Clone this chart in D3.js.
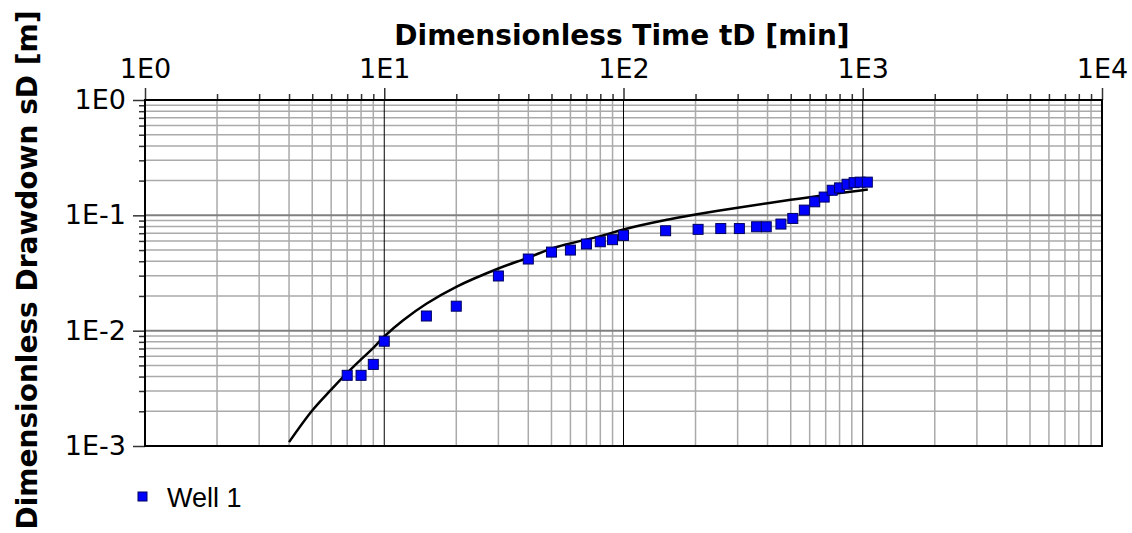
<!DOCTYPE html>
<html>
<head>
<meta charset="utf-8">
<script src="https://cdn.jsdelivr.net/npm/d3@7"></script>
<style>
  body { margin: 0; background: #fff; }
  svg { display: block; }
</style>
</head>
<body>
<div id="chart"></div>
<script>
// Data
const wellTime = [7, 8, 9, 10, 15, 20, 30, 40, 50, 60, 70, 80, 90, 100, 150, 205, 255, 305,
  360, 395, 455, 510, 570, 630, 690, 745, 800, 860, 920, 975, 1045];
const wellDrawdown = [0.0041, 0.0041, 0.0051, 0.0081, 0.0134, 0.0163, 0.0298, 0.0418, 0.048,
  0.050, 0.0564, 0.059, 0.0615, 0.067, 0.0735, 0.0756, 0.0768, 0.0768, 0.0796, 0.0796, 0.084,
  0.094, 0.111, 0.131, 0.144, 0.165, 0.173, 0.186, 0.192, 0.194, 0.194];

// type curve (black line)
const curveTime = [4, 5, 6, 7, 8, 9, 10, 12, 15, 20, 30, 40, 50, 60, 80, 100, 150, 200, 300,
  400, 500, 600, 800, 1000, 1050];
const curveDrawdown = [0.00108, 0.00203, 0.00308, 0.0043, 0.00563, 0.0071, 0.0089, 0.0123,
  0.0171, 0.024, 0.0346, 0.043, 0.0515, 0.0571, 0.066, 0.0754, 0.091, 0.1015, 0.1165, 0.1273,
  0.1363, 0.1437, 0.1558, 0.1651, 0.1672];

const xMajor = [1, 10, 100, 1000, 10000];
const yMajor = [0.001, 0.01, 0.1, 1];
const seriesName = "Well 1";
const xTitle = "Dimensionless Time tD [min]";
const yTitle = "Dimensionless Drawdown sD [m]";

// Setup
const svgWidth = 1132;
const svgHeight = 533;
const plotL = 145, plotR = 1102, plotT = 100, plotB = 446;

const svg = d3.select("#chart")
    .append("svg")
    .attr("width", svgWidth)
    .attr("height", svgHeight);

const x = d3.scaleLog().domain([1, 1e4]).range([plotL, plotR]);
const y = d3.scaleLog().domain([1e-3, 1]).range([plotB, plotT]);

// minor values 2..9 inside every decade
function minors(majors) {
  const out = [];
  for (let i = 0; i < majors.length - 1; i++) {
    for (let k = 2; k <= 9; k++) out.push(majors[i] * k);
  }
  return out;
}
const xMinor = minors(xMajor);
const yMinor = minors(yMajor);

const fmt = d => "1E" + Math.round(Math.log10(d));

// grid
const grid = svg.append("g");
grid.selectAll(".ymin").data(yMinor).join("line")
    .attr("x1", plotL).attr("x2", plotR)
    .attr("y1", d => y(d)).attr("y2", d => y(d))
    .attr("stroke", "#aaaaaa").attr("stroke-width", 1.5);
grid.selectAll(".xmin").data(xMinor).join("line")
    .attr("x1", d => x(d)).attr("x2", d => x(d))
    .attr("y1", plotT).attr("y2", plotB)
    .attr("stroke", "#aaaaaa").attr("stroke-width", 1.5);
grid.selectAll(".ymaj").data(yMajor).join("line")
    .attr("x1", plotL).attr("x2", plotR)
    .attr("y1", d => y(d)).attr("y2", d => y(d))
    .attr("stroke", "#808080").attr("stroke-width", 2);
grid.selectAll(".xmaj").data(xMajor).join("line")
    .attr("x1", d => x(d)).attr("x2", d => x(d))
    .attr("y1", plotT).attr("y2", plotB)
    .attr("stroke", "#000").attr("stroke-width", 1);

// axes
const tickFont = "'DejaVu Sans', Verdana, sans-serif";

const xAxisMinor = svg.append("g")
    .attr("transform", `translate(0,${plotT})`)
    .call(d3.axisTop(x).tickValues(xMinor).tickSize(6).tickFormat(""));
const xAxis = svg.append("g")
    .attr("transform", `translate(0,${plotT})`)
    .call(d3.axisTop(x).tickValues(xMajor).tickSize(12).tickPadding(10).tickFormat(fmt));
const yAxisMinor = svg.append("g")
    .attr("transform", `translate(${plotL},0)`)
    .call(d3.axisLeft(y).tickValues(yMinor).tickSize(6).tickFormat(""));
const yAxis = svg.append("g")
    .attr("transform", `translate(${plotL},0)`)
    .call(d3.axisLeft(y).tickValues(yMajor).tickSize(12).tickPadding(7).tickFormat(fmt));

[xAxisMinor, xAxis, yAxisMinor, yAxis].forEach(a => {
  a.select(".domain").remove();
  a.selectAll(".tick line").attr("stroke", "#333").attr("stroke-width", 1.5);
  a.selectAll("text")
      .attr("font-family", tickFont)
      .attr("font-size", 27)
      .attr("fill", "#000");
});

// frame
svg.append("rect")
    .attr("x", plotL).attr("y", plotT)
    .attr("width", plotR - plotL).attr("height", plotB - plotT)
    .attr("fill", "none").attr("stroke", "#000").attr("stroke-width", 2);

// type curve
const line = d3.line()
    .x((d, i) => x(curveTime[i]))
    .y(d => y(d))
    .curve(d3.curveCatmullRom);

svg.append("path")
    .attr("d", line(curveDrawdown))
    .attr("fill", "none")
    .attr("stroke", "#000")
    .attr("stroke-width", 2.5);

// well points
const size = 10;
svg.append("g").selectAll("rect").data(wellDrawdown).join("rect")
    .attr("x", (d, i) => x(wellTime[i]) - size / 2)
    .attr("y", d => y(d) - size / 2)
    .attr("width", size).attr("height", size)
    .attr("fill", "#0000ff")
    .attr("stroke", "#000060").attr("stroke-width", 1);

// titles
svg.append("text")
    .attr("x", 622).attr("y", 45)
    .attr("text-anchor", "middle")
    .attr("font-family", tickFont)
    .attr("font-weight", "bold")
    .attr("font-size", 28)
    .text(xTitle);

svg.append("text")
    .attr("transform", "translate(37,270) rotate(-90)")
    .attr("text-anchor", "middle")
    .attr("font-family", tickFont)
    .attr("font-weight", "bold")
    .attr("font-size", 28)
    .text(yTitle);

// legend
svg.append("rect")
    .attr("x", 138).attr("y", 492)
    .attr("width", 9).attr("height", 9)
    .attr("fill", "#0000ff")
    .attr("stroke", "#000060").attr("stroke-width", 1);
svg.append("text")
    .attr("x", 167).attr("y", 507)
    .attr("font-family", "'Liberation Sans', Arial, sans-serif")
    .attr("font-size", 27)
    .text(seriesName);
</script>
</body>
</html>
